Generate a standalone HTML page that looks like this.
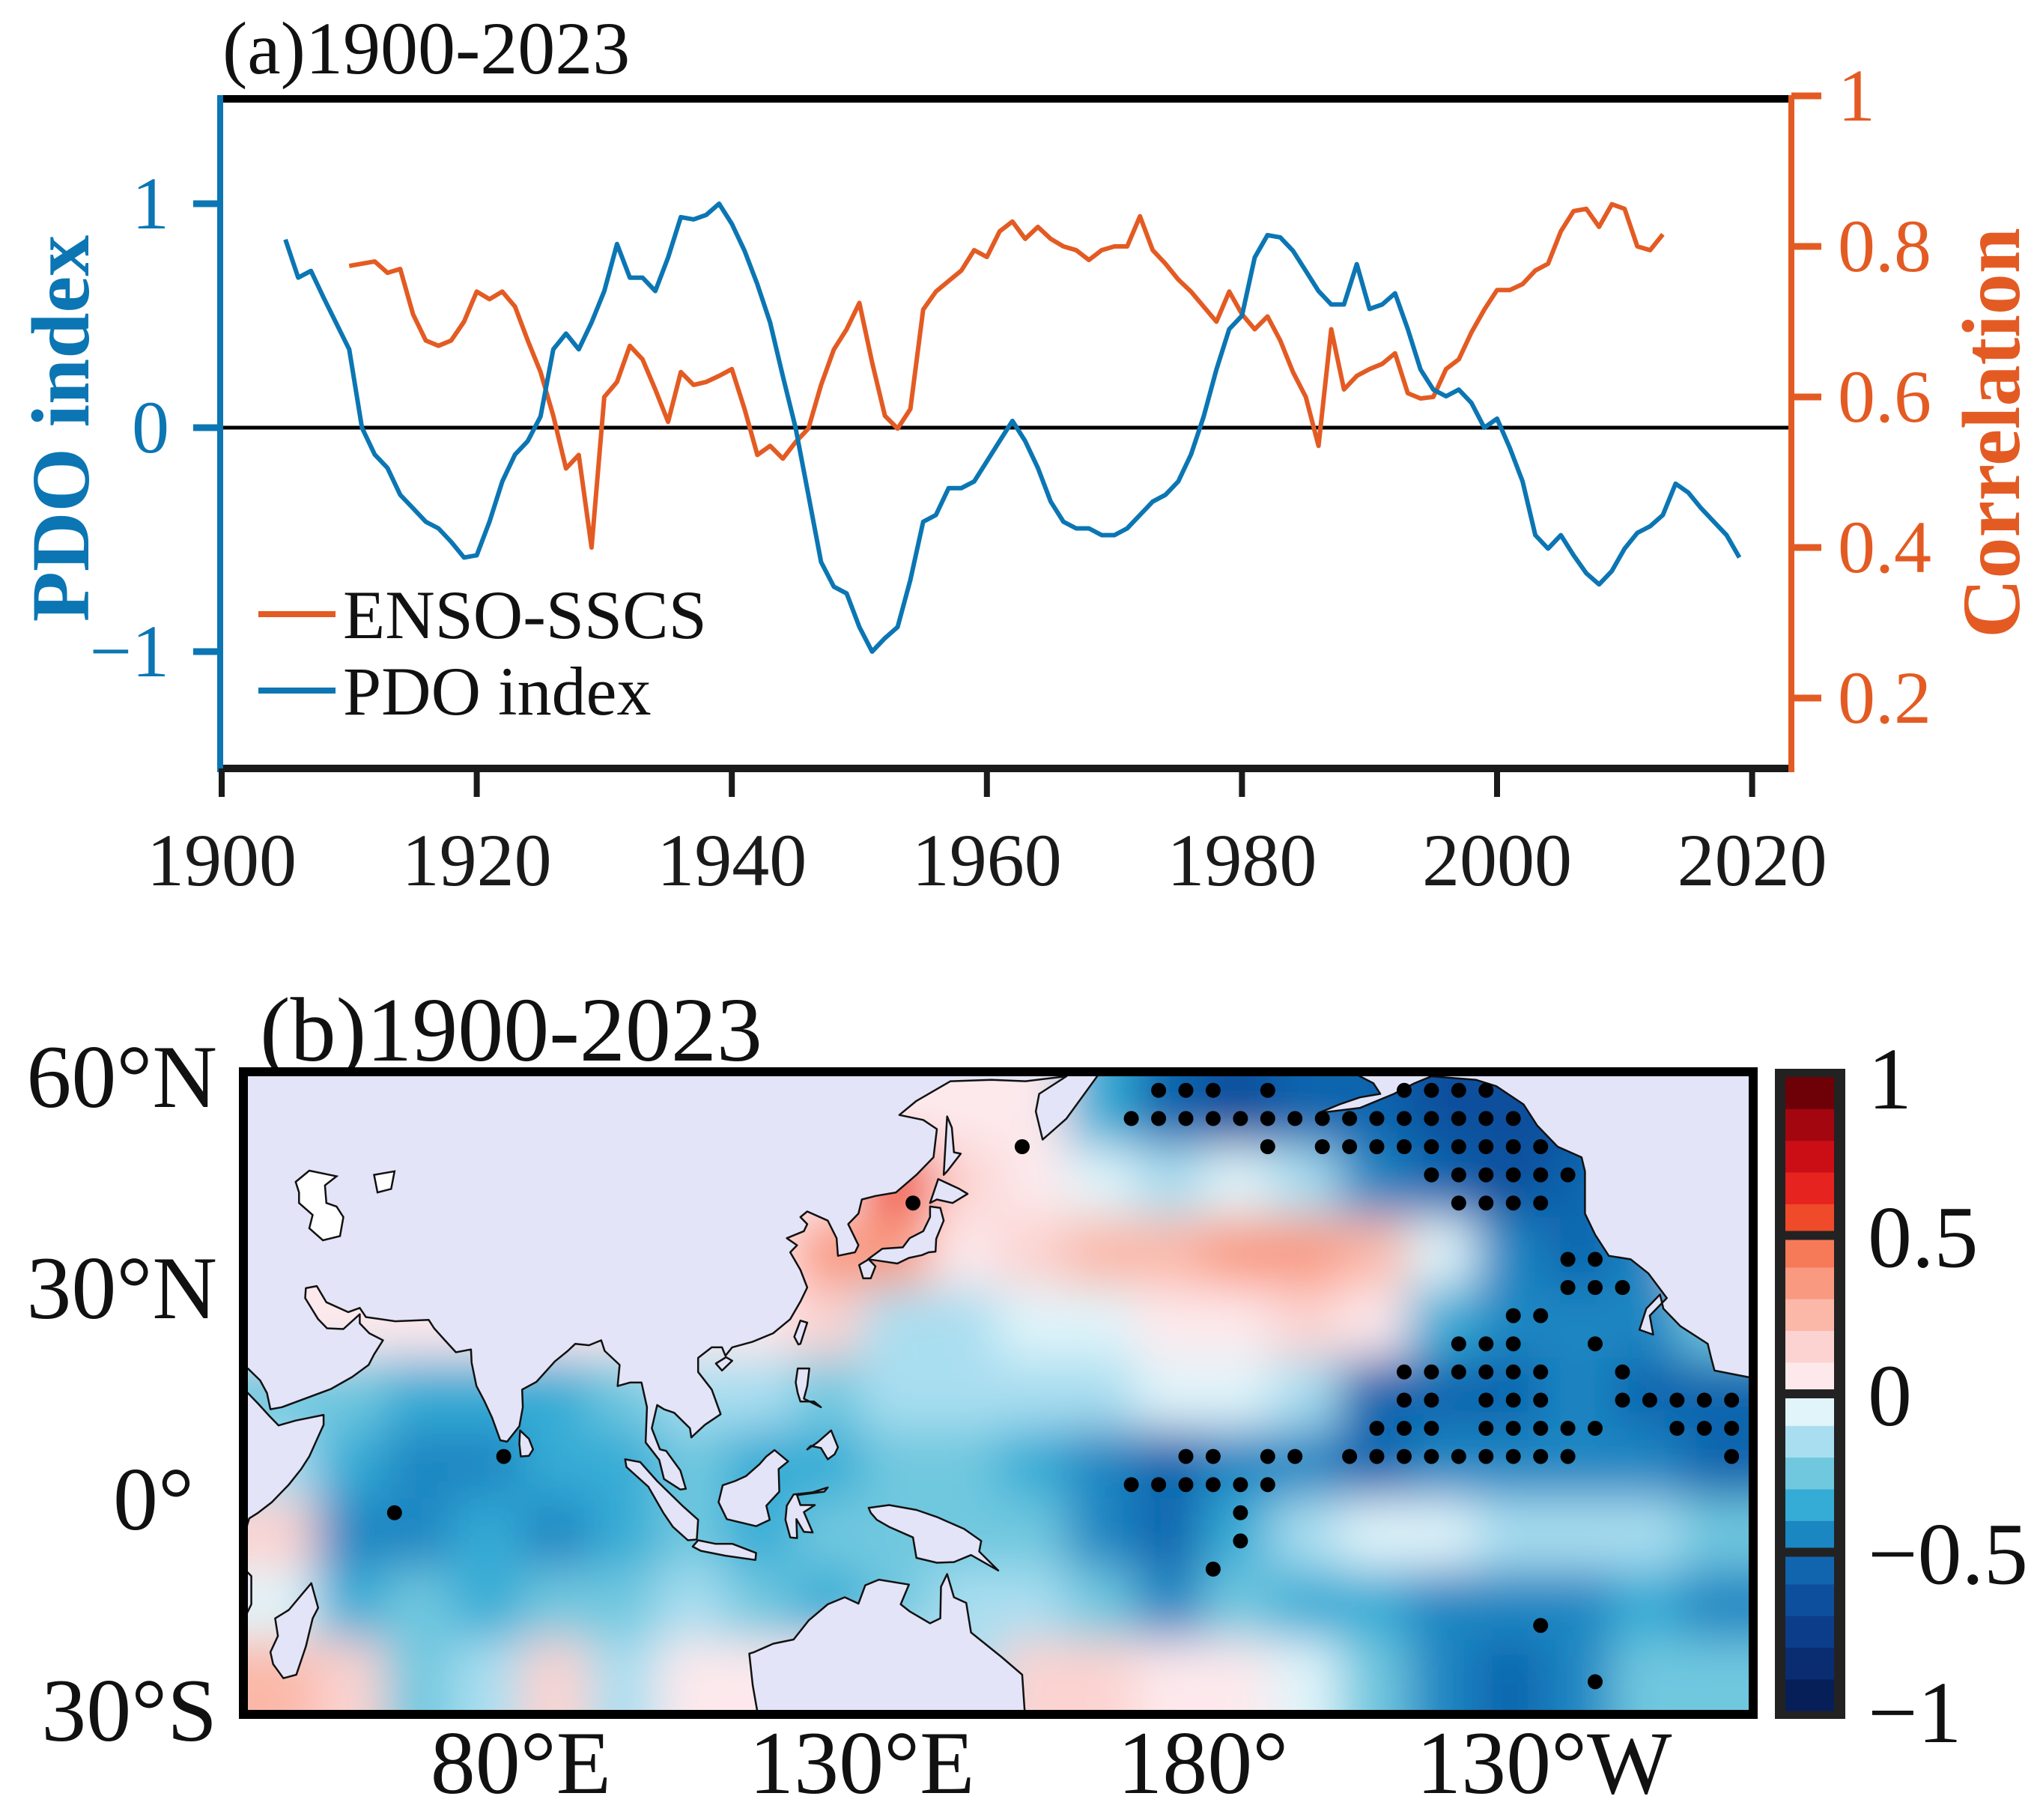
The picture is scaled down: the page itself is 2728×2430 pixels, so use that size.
<!DOCTYPE html>
<html><head><meta charset="utf-8"><title>PDO and ENSO-SSCS correlation</title>
<style>html,body{margin:0;padding:0;background:#fff}svg{display:block}text{font-family:"Liberation Serif",serif}</style>
</head><body>
<svg id="fig" xmlns="http://www.w3.org/2000/svg" width="2728" height="2430" viewBox="0 0 2728 2430">
<defs>
<filter id="blur" filterUnits="userSpaceOnUse" x="200" y="1300" width="2300" height="1100"><feGaussianBlur stdDeviation="32"/></filter>
<clipPath id="mapclip"><rect x="331" y="1437" width="2004" height="846"/></clipPath>
</defs>
<g id="panelA"></g>
<g id="panelB"></g>
</svg>
<script>
// ---------------- Panel (a) data ----------------
const pdoYears = [1905,1906,1907,1908,1910,1911,1912,1913,1914,1915,1916,1917,1918,1919,1920,1921,1922,1923,1924,1925,1926,1927,1928,1929,1930,1931,1932,1933,1934,1935,1936,1937,1938,1939,1940,1941,1942,1943,1944,1945,1946,1947,1948,1949,1950,1951,1952,1953,1954,1955,1956,1957,1958,1959,1960,1961,1962,1963,1964,1965,1966,1967,1968,1969,1970,1971,1972,1973,1974,1975,1976,1977,1978,1979,1980,1981,1982,1983,1984,1985,1986,1987,1988,1989,1990,1991,1992,1993,1994,1995,1996,1997,1998,1999,2000,2001,2002,2003,2004,2005,2006,2007,2008,2009,2010,2011,2012,2013,2014,2015,2016,2017,2018,2019];
const pdoValues = [0.84,0.67,0.70,0.58,0.35,0,-0.12,-0.18,-0.30,-0.36,-0.42,-0.45,-0.51,-0.58,-0.57,-0.42,-0.24,-0.12,-0.06,0.05,0.35,0.42,0.35,0.47,0.61,0.82,0.67,0.67,0.61,0.76,0.94,0.93,0.95,1.0,0.91,0.79,0.64,0.47,0.23,0,-0.30,-0.60,-0.71,-0.74,-0.89,-1.0,-0.94,-0.89,-0.68,-0.42,-0.39,-0.27,-0.27,-0.24,-0.15,-0.06,0.03,-0.06,-0.18,-0.33,-0.42,-0.45,-0.45,-0.48,-0.48,-0.45,-0.39,-0.33,-0.30,-0.24,-0.12,0.05,0.26,0.44,0.50,0.76,0.86,0.85,0.79,0.70,0.61,0.55,0.55,0.73,0.53,0.55,0.60,0.44,0.26,0.17,0.14,0.17,0.11,0,0.04,-0.09,-0.24,-0.48,-0.54,-0.48,-0.57,-0.65,-0.70,-0.64,-0.54,-0.47,-0.44,-0.39,-0.25,-0.29,-0.36,-0.42,-0.48,-0.58];
const corrYears = [1910,1911,1912,1913,1914,1915,1916,1917,1918,1919,1920,1921,1922,1923,1924,1925,1926,1927,1928,1929,1930,1931,1932,1933,1934,1935,1936,1937,1938,1939,1940,1941,1942,1943,1944,1945,1946,1947,1948,1949,1950,1951,1952,1953,1954,1955,1956,1957,1958,1959,1960,1961,1962,1963,1964,1965,1966,1967,1968,1969,1970,1971,1972,1973,1974,1975,1976,1977,1978,1979,1980,1981,1982,1983,1984,1985,1986,1987,1988,1989,1990,1991,1992,1993,1994,1995,1996,1997,1998,1999,2000,2001,2002,2003,2004,2005,2006,2007,2008,2009,2010,2011,2012,2013];
const corrValues = [0.774,0.777,0.78,0.765,0.77,0.71,0.675,0.668,0.675,0.70,0.74,0.73,0.74,0.72,0.675,0.633,0.575,0.505,0.523,0.40,0.60,0.62,0.668,0.65,0.61,0.567,0.633,0.616,0.62,0.628,0.637,0.584,0.523,0.535,0.518,0.54,0.558,0.616,0.663,0.69,0.725,0.646,0.575,0.558,0.584,0.716,0.74,0.754,0.768,0.795,0.786,0.82,0.833,0.81,0.826,0.81,0.80,0.795,0.782,0.795,0.80,0.80,0.84,0.795,0.777,0.756,0.74,0.72,0.70,0.74,0.71,0.69,0.707,0.675,0.633,0.60,0.535,0.69,0.61,0.628,0.637,0.644,0.658,0.605,0.598,0.60,0.637,0.65,0.686,0.716,0.742,0.742,0.75,0.768,0.777,0.82,0.847,0.85,0.826,0.856,0.85,0.80,0.795,0.816];
const xTicks = [1900,1920,1940,1960,1980,2000,2020];
const leftTicks = [1,0,-1];
const leftTickLabels = ["1","0","\u22121"];
const rightTicks = [1,0.8,0.6,0.4,0.2];
const rightTickLabels = ["1","0.8","0.6","0.4","0.2"];

// ---------------- Panel (b) data ----------------
const heatRows = [
 [0,0,0,0,0,0,0,0,0,0,0.05,0.0,-0.35,-0.6,-0.65,-0.6,-0.6,-0.65,-0.7,-0.65,-0.45,0],
 [0,0,0,0,0,0,0,0,0,0.55,0.15,0.05,-0.1,-0.15,-0.05,-0.2,-0.45,-0.55,-0.65,-0.6,-0.45,0],
 [0,0,0,0,0,0,0,0,0.3,0.35,0.05,0.15,0.28,0.28,0.3,0.3,0.2,-0.1,-0.45,-0.55,-0.45,0],
 [0,0,0,0,0,0,0,0,0.1,-0.15,-0.12,-0.1,-0.05,0.02,0.08,0.1,0.05,-0.35,-0.5,-0.5,-0.45,-0.3],
 [-0.3,-0.3,-0.4,-0.35,-0.4,-0.3,-0.2,-0.2,-0.3,-0.2,-0.2,-0.15,-0.12,-0.05,-0.05,-0.2,-0.55,-0.6,-0.55,-0.5,-0.55,-0.6],
 [-0.2,-0.4,-0.45,-0.5,-0.4,-0.35,-0.3,-0.4,-0.35,-0.3,-0.3,-0.35,-0.5,-0.55,-0.45,-0.5,-0.55,-0.5,-0.45,-0.5,-0.5,-0.55],
 [0.1,-0.45,-0.5,-0.4,-0.45,-0.35,-0.3,-0.4,-0.3,-0.3,-0.3,-0.3,-0.5,-0.55,-0.35,-0.2,-0.1,-0.08,-0.15,-0.12,-0.15,-0.3],
 [-0.1,-0.4,-0.3,-0.35,-0.25,-0.3,-0.15,-0.3,-0.35,-0.3,-0.2,-0.2,-0.3,-0.45,-0.3,-0.35,-0.4,-0.5,-0.5,-0.45,-0.4,-0.45],
 [0.2,0.1,-0.3,-0.2,0.1,-0.2,0.05,0,0,-0.1,-0.2,0.1,0.1,0.05,0.05,-0.1,-0.3,-0.45,-0.6,-0.5,-0.3,-0.3]
];
const heatLon0 = 40, heatLat0 = 60, heatStep = 10;
const stippleLats = [58,54,50,46,42,34,30,26,22,18,14,10,6,2,-2,-6,-10,-18,-26];
const stippleIdx = [
 [0,1,2,4,9,10,11,12],
 [-1,0,1,2,3,4,5,6,7,8,9,10,11,12,13],
 [-5,4,6,7,8,9,10,11,12,13,14],
 [10,11,12,13,14,15],
 [-9,11,12,13,14],
 [15,16],
 [15,16,17],
 [13,14],
 [11,12,13,16],
 [9,10,11,12,13,14,17],
 [9,10,12,13,14,17,18,19,20,21],
 [8,9,10,12,13,14,15,16,19,20,21],
 [-24,1,2,4,5,7,8,9,10,11,12,13,14,15,21],
 [-1,0,1,2,3,4],
 [-28,3],
 [3],
 [2],
 [14],
 [16]
];
const cbValues = [-1,-0.9,-0.8,-0.7,-0.6,-0.5,-0.4,-0.3,-0.2,-0.1,0,0.1,0.2,0.3,0.4,0.5,0.6,0.7,0.8,0.9];
const cbColors = ["#071f58","#0a2d72","#0c3d8a","#0e4f9d","#1165ae","#1a86c2","#35acd5","#70c8df","#a9def0","#e0f4fa","#fde9ec","#fcd3d0","#fbb8a8","#f99a80","#f67958","#ef4a2a","#e6231e","#cb0d16","#a3060f","#6e0008"];
const cbTickValues = [1,0.5,0,-0.5,-1];
const cbTickLabels = ["1","0.5","0","\u22120.5","\u22121"];
const latTicks = [60,30,0,-30];
const latTickLabels = ["60\u00b0N","30\u00b0N","0\u00b0","30\u00b0S"];
const lonTicks = [80,130,180,230];
const lonTickLabels = ["80\u00b0E","130\u00b0E","180\u00b0","130\u00b0W"];

const NS = "http://www.w3.org/2000/svg";
function mk(tag, attrs, parent, txt){const e=document.createElementNS(NS,tag);for(const k in attrs)e.setAttribute(k,attrs[k]);if(txt!==undefined)e.textContent=txt;parent.appendChild(e);return e;}

const BLUE="#0b76b3", ORANGE="#e35b23";
const X = yr => 296 + (yr-1900)*17.03;
const YL = v => 571 - v*299;
const YR = c => 128 + (1-c)*1005;

const A = document.getElementById('panelA');
let e;
e = mk('text',{x:297,y:98,'font-size':100,fill:'#111'},A,'(a)1900-2023');


e = mk('line',{x1:294,y1:132,x2:2392,y2:132,stroke:'#000','stroke-width':10},A);


e = mk('line',{x1:294,y1:1026,x2:2392,y2:1026,stroke:'#1a1a1a','stroke-width':10},A);


e = mk('line',{x1:296,y1:YL(0),x2:2392,y2:YL(0),stroke:'#000','stroke-width':5},A);


e = mk('line',{x1:294,y1:127,x2:294,y2:1031,stroke:BLUE,'stroke-width':8},A);


e = mk('line',{x1:2392,y1:127,x2:2392,y2:1031,stroke:ORANGE,'stroke-width':8},A);


xTicks.forEach((t,i)=>{
  e = mk('line',{x1:X(t),y1:1026,x2:X(t),y2:1064,stroke:'#1a1a1a','stroke-width':8},A);
  
  
  e = mk('text',{x:X(t),y:1182,'font-size':100,'text-anchor':'middle',fill:'#1a1a1a'},A,String(t));
  
  
});
leftTicks.forEach((t,i)=>{
  e = mk('line',{x1:258,y1:YL(t),x2:294,y2:YL(t),stroke:BLUE,'stroke-width':9},A);
  
  
  e = mk('text',{x:226,y:YL(t)+33,'font-size':100,'text-anchor':'end',fill:BLUE},A,leftTickLabels[i]);
  
  
});
rightTicks.forEach((t,i)=>{
  e = mk('line',{x1:2392,y1:YR(t),x2:2432,y2:YR(t),stroke:ORANGE,'stroke-width':9},A);
  
  
  e = mk('text',{x:2454,y:YR(t)+33,'font-size':100,fill:ORANGE},A,rightTickLabels[i]);
  
  
});
e = mk('text',{x:0,y:0,'font-size':110,'font-weight':'bold','text-anchor':'middle',fill:BLUE,transform:'translate(118,572) rotate(-90)'},A,'PDO index');


e = mk('text',{x:0,y:0,'font-size':110,'font-weight':'bold','text-anchor':'middle',fill:ORANGE,transform:'translate(2696,578) rotate(-90)'},A,'Correlation');


e = mk('path',{d:corrYears.map((y,i)=>(i?'L':'M')+X(y).toFixed(1)+' '+YR(corrValues[i]).toFixed(1)).join(' '),fill:'none',stroke:ORANGE,'stroke-width':6,'stroke-linejoin':'round'},A);


e = mk('path',{d:pdoYears.map((y,i)=>(i?'L':'M')+X(y).toFixed(1)+' '+YL(pdoValues[i]).toFixed(1)).join(' '),fill:'none',stroke:BLUE,'stroke-width':6,'stroke-linejoin':'round'},A);


const legend = mk('g',{},A);


e = mk('line',{x1:345,y1:820,x2:448,y2:820,stroke:ORANGE,'stroke-width':8},legend);


e = mk('text',{x:458,y:852,'font-size':92,fill:'#111'},legend,'ENSO-SSCS');


e = mk('line',{x1:345,y1:922,x2:448,y2:922,stroke:BLUE,'stroke-width':8},legend);


e = mk('text',{x:458,y:954,'font-size':92,fill:'#111'},legend,'PDO index');



// ---------------- Panel (b) ----------------
const MX = lon => 331 + (lon-40)*9.109;
const MY = lat => 1437 + (60-lat)*9.4;
function colorFor(v){let i=Math.floor((v+1)/0.1+1e-9);if(i<0)i=0;if(i>19)i=19;return cbColors[i];}
const B = document.getElementById('panelB');
e = mk('text',{x:347,y:1416,'font-size':122,fill:'#111'},B,'(b)1900-2023');


const clipG = mk('g',{'clip-path':'url(#mapclip)'},B);
mk('rect',{x:331,y:1437,width:2004,height:846,fill:'#fff'},clipG);
const heatG = mk('g',{filter:'url(#blur)'},clipG);


heatRows.forEach((row,r)=>{
  row.forEach((v,c)=>{
    const lonA=heatLon0+c*heatStep, latA=heatLat0-r*heatStep;
    let x0=MX(lonA), x1=MX(lonA+heatStep), y0=MY(latA), y1=MY(latA-heatStep);
    if(c===0)x0-=120; if(c===row.length-1)x1+=120; if(r===0)y0-=120; if(r===heatRows.length-1)y1+=120;
    const cell = mk('rect',{x:x0.toFixed(1),y:y0.toFixed(1),width:(x1-x0+1).toFixed(1),height:(y1-y0+1).toFixed(1),fill:colorFor(v)},heatG);
    
    
  });
});
const lands = [
 [[30,62],[166,62],[163,58],[160,54],[156.5,51],[155.5,55],[156,57.5],[160,60],[154,59.3],[149,59.5],[143,59.3],[138,56.5],[135.5,54.5],[139,53.8],[141,52.5],[140.5,48.5],[138,46],[135,43.5],[132,43],[130,42.5],[129.5,40.5],[128,39],[129.5,36],[129,35],[126.5,34.5],[126.3,37],[125,39.5],[122,40.8],[121,40],[122,39],[121.5,38],[119,37],[120.5,36],[119.5,35],[121,32.5],[122,30],[121,28],[119.5,25.5],[117,23.5],[114,22.3],[111,21.5],[110,20.3],[109.5,21.5],[108,21.5],[106,20],[106,18],[108,15.5],[109.3,12],[107,10.5],[105,8.7],[104.8,10],[102.5,12.2],[101,12.7],[100,13.3],[99.2,10],[100.4,7],[101.3,6.8],[103.4,4],[104.2,1.4],[103.4,1.3],[101,2.8],[100.3,5.5],[98.3,8],[98.5,13],[97.7,16.5],[96,16.5],[94.2,16],[94.5,19],[92.3,21],[91.8,22.5],[90,21.8],[88,22],[86.9,21],[85,19.5],[82.3,16.6],[80.2,15.5],[80.3,13],[79.8,10.3],[78,8.1],[77,8.3],[75.8,11.5],[74.6,14],[73.5,16],[72.8,19.3],[72.7,21.2],[70.5,20.8],[68.7,22.7],[67.3,24.2],[66.5,25.4],[61.6,25.2],[57.3,25.8],[56.4,27.1],[54.7,26.5],[51.5,27.9],[50.1,30.2],[48.5,29.9],[48.4,28.5],[50.3,25.5],[51.6,24.2],[54,24.1],[56.4,26.2],[56.4,24.9],[57.8,23.5],[59.8,22.5],[58.5,20.5],[57.7,19],[55.3,17.3],[52.2,15.6],[45,13],[43.3,12.7],[42.8,15],[41.8,16.8],[40,18.5],[39,18.5],[39,15.8],[40,15],[41.5,13.5],[43.2,11.7],[44.5,10.4],[47,11.1],[51.1,11.9],[51.1,10.5],[50.4,9],[49,6],[47.8,4.2],[46,2],[43.5,-0.5],[41.5,-2],[40.2,-2.8],[39.5,-5],[39,-8],[39.5,-10],[40.5,-11],[40.5,-15],[39.5,-17],[36,-19],[35.3,-22],[35.5,-24],[33,-26],[32.5,-29],[31.5,-32],[30,-32]],
 [[49.3,-12],[50.3,-15.5],[49.5,-17],[48.5,-21],[47.1,-25],[45.2,-25.5],[43.7,-23.5],[43.3,-21.8],[44.4,-19.5],[44,-17],[46,-15.8],[47.9,-13.6]],
 [[79.9,9.7],[81.2,8.5],[81.8,7],[81.2,6.1],[80,6],[79.8,7.8]],
 [[95.3,5.6],[97.5,5.2],[100,2.5],[103.7,-1],[106,-3],[105.8,-5.8],[104.5,-5.9],[102.3,-4],[100.9,-2],[98.7,1.7],[95.5,4.5]],
 [[105.2,-6.8],[106,-5.9],[108.5,-6.4],[111,-6.4],[114.5,-7.7],[114.4,-8.7],[110,-8.1],[106.4,-7.4]],
 [[109.6,1.9],[109,-0.5],[110.2,-2.9],[114.5,-3.9],[116.5,-3],[116,-1],[117.9,1],[117.8,4.2],[119.2,5.3],[117.2,6.9],[116,6],[115,4.9],[113,3.2],[111.4,2.5]],
 [[118.8,-3],[119.5,-5.5],[120.5,-5.6],[120.4,-2.9],[121.5,-4.7],[122.8,-4.8],[121.5,-1.9],[123.1,-0.9],[121,-0.9],[120.5,0.5],[124.5,1],[125,1.6],[122.8,0.9],[120,0.6],[119,-1]],
 [[131,-1.3],[134,-0.9],[138,-1.6],[141,-2.6],[145,-4.3],[147.5,-6],[147.2,-7.5],[150,-10.2],[146,-8],[143.5,-9],[141,-9.1],[138,-8.4],[137.5,-5.5],[134,-4],[132.2,-3],[131.3,-2]],
 [[120.6,18.5],[122.3,18.5],[122,16],[121.5,14.2],[124,13],[123,13.8],[121,13.8],[120.6,15],[120.3,16.5]],
 [[122,7],[123.5,8],[125.5,9.7],[126.5,7.3],[126,6.3],[125,5.6],[124,7.2],[122.5,7.5]],
 [[120.1,23],[121,25.3],[122,25],[121,22],[120.7,21.9]],
 [[108.6,19.2],[110.1,20.1],[111,19.6],[109.5,18.2]],
 [[130.9,34],[133,35.5],[136,35.7],[137,37],[139,38],[140,40],[140,41.5],[141.5,41.3],[142,39.5],[140.9,36.9],[140.8,35.1],[139.8,35],[138.8,34.6],[136.9,34.2],[135.2,33.4],[132.5,33.8]],
 [[129.6,33.2],[131,34],[132,33],[131.3,31.3],[130.2,31.3]],
 [[140,42],[141.2,45.4],[144.3,44],[145.5,43.3],[143.3,42],[141,42.5]],
 [[142,46],[142.5,54.3],[143.2,52.7],[143.5,49.2],[144.5,49],[142.5,46.5]],
 [[113.5,-22],[114,-26.5],[115,-32],[154,-32],[153.5,-25],[150.5,-22.5],[146,-19],[145.3,-14.8],[143.5,-14],[142.5,-10.7],[141.6,-12.5],[141.5,-17],[140,-17.7],[137,-16],[135.7,-15],[136.9,-12.2],[132.5,-11.5],[130.5,-12.3],[129.5,-14.9],[127.5,-14],[125,-15],[122.2,-17.3],[120,-20],[117,-20.6],[114.2,-21.8]],
 [[201,62],[264,62],[264,16.5],[255,18.2],[254.5,20],[254,22],[250,24.5],[247.5,27],[247,29],[245,27],[244,24],[246,23.3],[245.5,26],[248,28.5],[245.3,32],[242.7,34],[239.5,34.5],[237.5,37.5],[236,40.5],[236,43],[236,46.5],[235.5,48.5],[232,50],[229,53],[227,56],[223,58.6],[220,59.5],[213.5,60],[211,59],[208,57.5],[203,55.5],[197,54.8],[200,56],[203,57],[206,57.5],[205,59],[201,61]]
];
const lakes = [
 [[47,45],[49,46.6],[53,45.8],[51.3,44.5],[51.5,42],[53,41.5],[54,40],[53.5,37.3],[51,36.7],[49,38.4],[49.5,40.3],[47.5,42],[47.5,43.5]],
 [[58.5,46],[61.5,46.5],[61,44],[59,43.5]]
];
const landG = mk('g',{},clipG);


lands.forEach(p=>{
  const s = mk('polygon',{points:p.map(q=>MX(q[0]).toFixed(1)+','+MY(q[1]).toFixed(1)).join(' '),fill:'#e4e4f8',stroke:'#111','stroke-width':2.5,'stroke-linejoin':'round'},landG);
  
  
});
lakes.forEach(p=>{
  const s = mk('polygon',{points:p.map(q=>MX(q[0]).toFixed(1)+','+MY(q[1]).toFixed(1)).join(' '),fill:'#fff',stroke:'#111','stroke-width':2.5},landG);
  
  
});
const dotG = mk('g',{},clipG);


stippleLats.forEach((lat,r)=>{
  stippleIdx[r].forEach(k=>{
    const lon = 173.5+4*k;
    const d = mk('circle',{cx:MX(lon).toFixed(1),cy:MY(lat).toFixed(1),r:10,fill:'#000'},dotG);
    
    
  });
});
e = mk('rect',{x:325,y:1431,width:2016,height:858,fill:'none',stroke:'#000','stroke-width':12},B);


latTicks.forEach((t,i)=>{
  const anchor = i===2 ? 'middle' : 'end';
  const tx = i===2 ? 205 : 290;
  e = mk('text',{x:tx,y:MY(t)+41,'font-size':120,'text-anchor':anchor,fill:'#111'},B,latTickLabels[i]);
  
  
});
lonTicks.forEach((t,i)=>{
  e = mk('text',{x:MX(t),y:2394,'font-size':120,'text-anchor':'middle',fill:'#111'},B,lonTickLabels[i]);
  
  
});
const CBY = v => 1438 + (1-v)*423;
const cb = mk('g',{},B);


mk('rect',{x:2370,y:1427,width:94,height:868,fill:'#222'},cb);
cbValues.forEach((v,i)=>{
  const s = mk('rect',{x:2384,y:CBY(v+0.1).toFixed(1),width:65,height:(CBY(v)-CBY(v+0.1)+0.6).toFixed(1),fill:cbColors[i]},cb);
  
  
});
[0.5,0,-0.5].forEach(v=>{
  const s = mk('rect',{x:2384,y:CBY(v)-6,width:65,height:12,fill:'#222'},cb);
  
  
});
cbTickValues.forEach((v,i)=>{
  e = mk('text',{x:2494,y:CBY(v)+42,'font-size':118,fill:'#111'},cb,cbTickLabels[i]);
  
  
});
</script>
</body></html>
